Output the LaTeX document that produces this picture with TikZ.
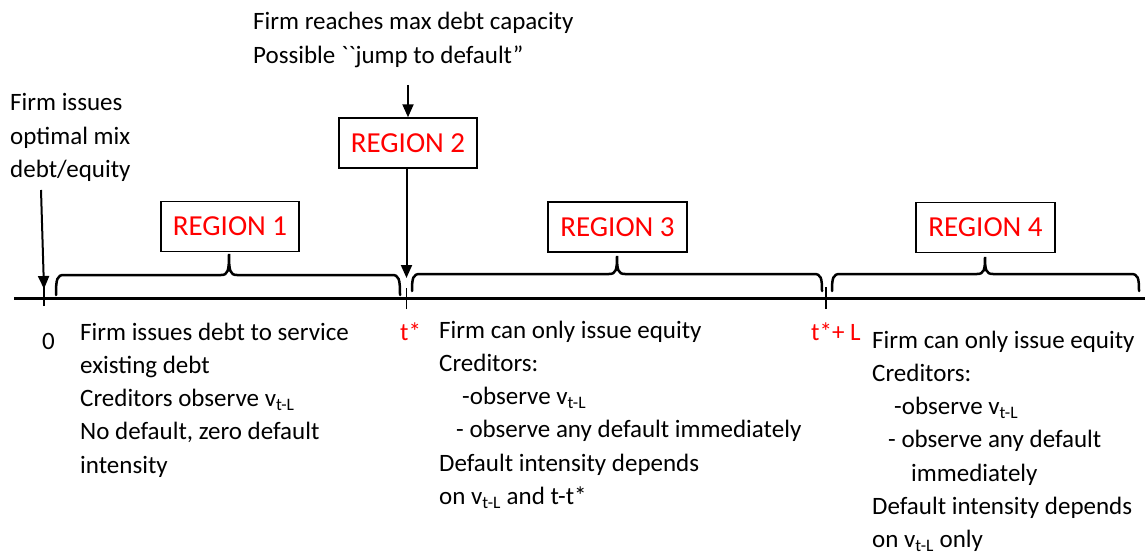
\documentclass[tikz,border=0pt]{standalone}
\usepackage{fontspec}
\setmainfont{Carlito}
\newfontfamily\rawfont{Carlito}[Ligatures=TeXOff]
\usetikzlibrary{arrows.meta}
\newcommand\vtl{v\textsubscript{t-L}}
\newcommand\body{\fontsize{25}{33.3}\selectfont}
\tikzset{
  arr/.style={line width=2pt, -{Triangle[length=13pt,width=11pt]}},
  regbox/.style={draw, line width=1.4pt, inner sep=0pt, text=red,
    font=\fontsize{29}{34}\selectfont, minimum width=138pt, minimum height=50pt},
  txt/.style={inner sep=0pt, anchor=base west, font=\body},
  redtxt/.style={txt, text=red},
  tickl/.style={line width=1.2pt},
  axisl/.style={line width=3pt},
  bracel/.style={line width=2.5pt, line cap=round},
}
\newcommand\lines[1]{\begin{tabular}[t]{@{}l@{}}#1\end{tabular}}
\begin{document}
\begin{tikzpicture}[x=1pt,y=-1pt]
\useasboundingbox (0,0) rectangle (1145,556);
% boxes
\node[regbox] (r1) at (230,226.5) {REGION 1};
\node[regbox] (r2) at (408,143) {REGION 2};
\node[regbox, minimum width=139pt] (r3) at (617.5,227) {REGION 3};
\node[regbox, minimum width=139pt] (r4) at (985.5,227.5) {REGION 4};
% top texts
\node[txt] (top) at (253,30) {\lines{Firm reaches max debt capacity\\ {\rawfont Possible ``jump to default”}}};
\node[txt] (left) at (10,111) {\lines{Firm issues\\ optimal mix\\ debt/equity}};
% axis
\coordinate (axL) at (14,298);
\coordinate (axR) at (1145,298);
\draw[axisl] (axL) -- (axR);
\coordinate (p0) at (44,298);
\coordinate (ps) at (406.5,298);
\coordinate (pl) at (826,298);
\draw[tickl] ([yshift=-8pt]p0) -- ([yshift=17pt]p0);
\draw[tickl] ([yshift=-11pt]ps) -- ([yshift=10pt]ps);
\draw[tickl] ([yshift=-11pt]pl) -- ([yshift=11pt]pl);
% tick labels
\node[txt] (l0) at (42,349) {0};
\node[redtxt] (ls) at (400,340) {t*};
\node[redtxt] (ll) at (811,340) {t*+ L};
% arrows
\coordinate (a1s) at (41,190);
\coordinate (a1e) at (44,289);
\draw[arr] (a1s) -- (a1e);
\coordinate (a2s) at (408,85);
\draw[arr] (a2s) -- (r2.north);
\coordinate (a3e) at (406.5,278);
\draw[arr] (r2.south -| a3e) -- (a3e);
% braces
\draw[bracel] (56,295) .. controls (56,279) and (57,275) .. (64,275) -- (221,275)
  .. controls (228,275) and (229,271) .. (229,254)
  .. controls (229,271) and (230,275) .. (237,275) -- (392,275)
  .. controls (399,275) and (400,279) .. (400,295);
\draw[bracel] (412,291) .. controls (412,278) and (413,274) .. (420,274) -- (609,274)
  .. controls (616,274) and (617,270) .. (617,256)
  .. controls (617,270) and (618,274) .. (625,274) -- (814,274)
  .. controls (821,274) and (822,278) .. (822,291);
\draw[bracel] (832,291) .. controls (832,278) and (833,274) .. (840,274) -- (977,274)
  .. controls (984,274) and (985,270) .. (985,257)
  .. controls (985,270) and (986,274) .. (993,274) -- (1131,274)
  .. controls (1138,274) and (1139,278) .. (1139,291);
% region texts
\node[txt] (t1) at (80,340) {\lines{Firm issues debt to service\\ existing debt\\ Creditors observe \vtl\\ No default, zero default\\ intensity}};
\node[txt] (t3) at (439,338) {\lines{Firm can only issue equity\\ Creditors:\\ \hspace*{23pt}-observe \vtl\\ \hspace*{17pt}- observe any default immediately\\ Default intensity depends\\ on \vtl{} and t-t*}};
\node[txt] (t4) at (872,348) {\lines{Firm can only issue equity\\ Creditors:\\ \hspace*{22pt}-observe \vtl\\ \hspace*{16pt}- observe any default\\ \hspace*{39pt}immediately\\ Default intensity depends\\ on \vtl{} only}};
\end{tikzpicture}
\end{document}
